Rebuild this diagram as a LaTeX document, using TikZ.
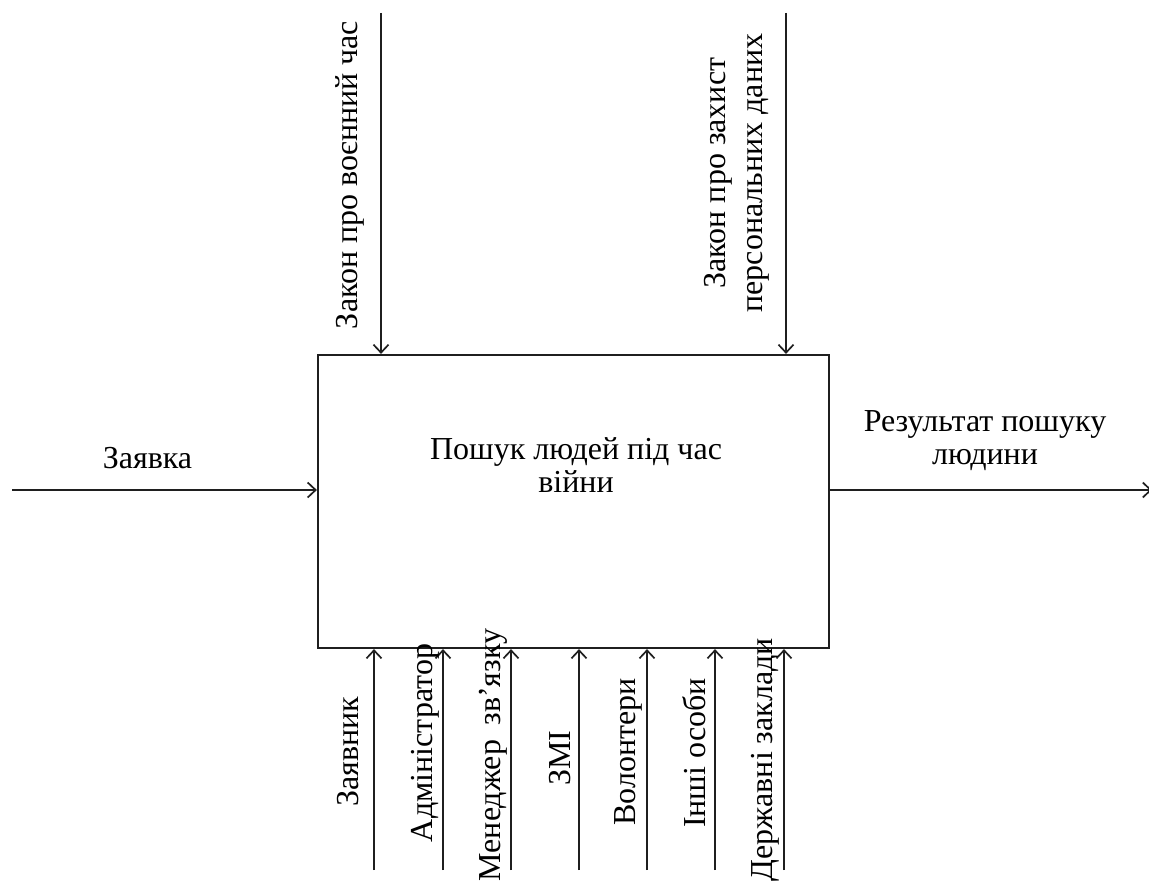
\documentclass[tikz,border=0pt]{standalone}
\usepackage{fontspec}
\setmainfont{Liberation Serif}
\usetikzlibrary{arrows.meta}
\begin{document}
\begin{tikzpicture}[x=1pt,y=-1pt,
  every node/.style={font=\rmfamily\fontsize{32}{33}\selectfont, inner sep=0pt, align=center},
  flow/.style={line width=1.9pt, draw=black!88, -{Straight Barb[length=8pt,width=15pt,line width=1.7pt]}},
  procbox/.style={draw=black!88, line width=2.2pt, minimum width=511pt, minimum height=293pt},
  vlabel/.style={rotate=90, anchor=base}]
\useasboundingbox (0,0) rectangle (1149,885);

% function block
\node[procbox] (proc) at (573.5,501.5) {};
\node (title) at (576,465.5) {Пошук людей під час\\війни};

% input
\coordinate (inS) at (12,490);
\draw[flow] (inS) -- (inS -| proc.west);
\node[anchor=base] (inL) at (147.5,468) {Заявка};

% output
\coordinate (outE) at (1152,490);
\draw[flow] (outE -| proc.east) -- (outE);
\node (outL) at (985,441) {Результат пошуку\\людини};

% controls
\coordinate (ct1) at (381,13);
\coordinate (ct2) at (786,13);
\draw[flow] (ct1) -- (ct1 |- proc.north);
\draw[flow] (ct2) -- (ct2 |- proc.north);
\node[vlabel] (ctL1) at (357,175) {Закон про воєнний час};
\node[rotate=90, font=\rmfamily\fontsize{32}{37}\selectfont] (ctL2) at (736.5,173) {Закон про захист\\персональних даних};

% mechanisms
\foreach \nm/\xx in {m1/374,m2/443,m3/511,m4/579,m5/647,m6/715,m7/784}{
  \coordinate (\nm) at (\xx,870);
  \draw[flow] (\nm) -- (\nm |- proc.south);
}
\node[vlabel] (mL1) at (358,752) {Заявник};
\node[vlabel] (mL2) at (432,743) {Адміністратор};
\node[vlabel] (mL3) at (500,755) {Менеджер\hspace{0.45em}зв’язку};
\node[vlabel] (mL4) at (570,758) {ЗМІ};
\node[vlabel] (mL5) at (635,752) {Волонтери};
\node[vlabel] (mL6) at (705,753) {Інші особи};
\node[vlabel] (mL7) at (772,760) {Державні заклади};
\end{tikzpicture}
\end{document}
